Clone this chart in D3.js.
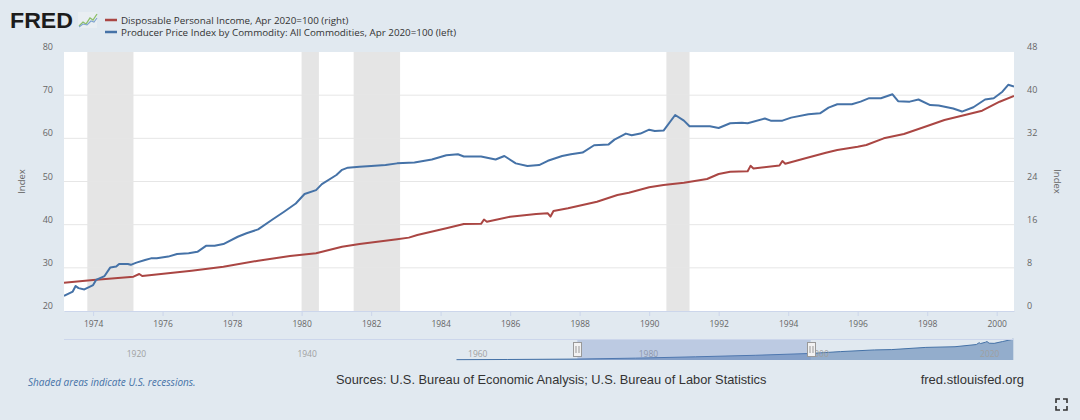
<!DOCTYPE html>
<html><head><meta charset="utf-8">
<script src="https://cdn.jsdelivr.net/npm/d3@7"></script>
<style>
body{margin:0;background:#e1e9f0;}
svg{display:block;font-family:"Open Sans","Liberation Sans",Arial,sans-serif;}
</style>
</head><body>
<svg id="c" width="1080" height="420"></svg>
<script>
// ---------- DATA ----------
const ppiDates = ["1973-03","1973-06","1973-07","1973-08","1973-10","1974-01","1974-02","1974-05","1974-07","1974-09","1974-10","1975-01","1975-02","1975-04","1975-07","1975-09","1975-11","1976-03","1976-06","1976-10","1977-01","1977-04","1977-07","1977-10","1978-03","1978-06","1978-10","1979-03","1979-07","1979-11","1980-02","1980-06","1980-08","1981-01","1981-03","1981-05","1981-09","1982-01","1982-06","1982-10","1983-04","1983-10","1984-03","1984-07","1984-09","1985-03","1985-08","1985-11","1986-03","1986-07","1986-11","1987-02","1987-07","1987-10","1988-02","1988-06","1988-11","1989-01","1989-05","1989-07","1989-10","1990-01","1990-03","1990-06","1990-10","1991-01","1991-03","1991-06","1991-10","1992-01","1992-05","1992-09","1992-11","1993-05","1993-07","1993-11","1994-02","1994-08","1994-12","1995-03","1995-06","1995-11","1996-02","1996-05","1996-09","1997-01","1997-03","1997-07","1997-10","1998-02","1998-05","1998-10","1999-01","1999-05","1999-09","1999-12","2000-03","2000-05","2000-07"];
const ppiValues = [23.5,24.5,25.8,25.3,25.0,26.0,27.2,28.1,30.1,30.3,30.9,30.9,30.7,31.2,31.8,32.2,32.2,32.6,33.2,33.4,33.7,35.1,35.1,35.5,37.2,38.0,38.9,41.2,43.0,44.9,47.1,48.0,49.4,51.5,52.7,53.2,53.4,53.6,53.8,54.2,54.4,55.1,56.1,56.3,55.8,55.8,55.1,55.9,54.2,53.6,53.8,54.8,55.9,56.3,56.7,58.4,58.6,59.7,61.1,60.7,61.1,62.0,61.7,61.8,65.4,64.1,62.8,62.8,62.8,62.4,63.5,63.6,63.5,64.6,64.1,64.1,64.8,65.6,65.8,67.1,67.9,67.9,68.5,69.3,69.3,70.2,68.6,68.5,69.0,67.7,67.6,66.9,66.2,67.2,69.0,69.3,70.8,72.4,72.0];

const dpiDates = ["1973-03","1974-01","1975-03","1975-05","1975-06","1976-11","1977-10","1978-10","1979-09","1980-06","1981-03","1981-09","1982-10","1983-02","1983-05","1984-03","1984-09","1985-03","1985-04","1985-05","1986-01","1986-10","1987-02","1987-03","1987-04","1987-09","1988-07","1989-02","1989-06","1990-01","1990-06","1991-01","1991-09","1992-01","1992-05","1992-11","1992-12","1993-01","1993-10","1993-11","1993-12","1994-07","1995-02","1995-06","1996-01","1996-04","1996-10","1997-05","1998-01","1998-07","1999-02","1999-08","2000-02","2000-07"];
const dpiValues = [5.25,5.74,6.36,6.86,6.48,7.47,8.21,9.32,10.19,10.69,11.92,12.42,13.3,13.6,14.08,15.33,16.12,16.15,16.95,16.55,17.48,17.97,18.1,17.5,18.53,19.03,20.26,21.5,21.92,22.92,23.35,23.78,24.46,25.39,25.82,25.9,26.9,26.4,26.95,27.8,27.3,28.3,29.34,29.84,30.45,30.76,32.0,32.8,34.28,35.4,36.32,37.12,38.79,39.84];

const navDates = ["1959-01","1965-01","1973-01","1980-01","1987-01","1994-01","2000-07","2004-01","2008-01","2010-01","2014-01","2017-06","2019-12","2020-04","2020-06","2021-01","2021-03","2021-06","2022-01","2023-01","2024-04"];
const navValues = [2,3,5.5,11,19,28,39,50,60,62,75,79,92,103,98,106,110,100,99,110,124];

const recStart = ["1973-11","1980-01","1981-07","1990-07"];
const recEnd   = ["1975-03","1980-07","1982-11","1991-03"];

const leftTicks  = [20,30,40,50,60,70,80];
const rightTicks = [0,8,16,24,32,40,48];
const navTickYears = [1920,1940,1960,1980,2000,2020];

const seriesNames = ["Disposable Personal Income, Apr 2020=100 (right)",
                     "Producer Price Index by Commodity: All Commodities, Apr 2020=100 (left)"];
const colRed = "#aa4643", colBlue = "#4572a7";

// ---------- SETUP ----------
const p = d3.timeParse("%Y-%m");
const svg = d3.select("#c");
const L = 64, R = 1014, T = 52, B = 311;

const x = d3.scaleTime().domain([p("1973-03"), p("2000-07")]).range([L, R]);
const yL = d3.scaleLinear().domain([20, 80]).range([B, T]);
const yR = d3.scaleLinear().domain([0, 48]).range([B, T]);

// plot background
svg.append("rect").attr("x", L).attr("y", T).attr("width", R - L).attr("height", B - T).attr("fill", "#fff");

// recessions
svg.append("g").selectAll("rect").data(recStart.map((s, i) => [p(s), p(recEnd[i])]))
  .join("rect")
  .attr("x", d => x(d[0])).attr("width", d => x(d[1]) - x(d[0]))
  .attr("y", T).attr("height", B - T).attr("fill", "#e5e5e5");

// gridlines
svg.append("g").selectAll("line").data(leftTicks.filter(v => v > 20 && v < 80))
  .join("line")
  .attr("x1", L).attr("x2", R).attr("y1", d => yL(d)).attr("y2", d => yL(d))
  .attr("stroke", "#e6e6e6").attr("stroke-width", 1);

// axes
const xAxis = svg.append("g").attr("transform", `translate(0,${B})`)
  .call(d3.axisBottom(x).ticks(d3.timeYear.every(2)).tickFormat(d3.timeFormat("%Y")).tickSize(5).tickSizeOuter(0).tickPadding(5));
xAxis.select(".domain").attr("stroke", "#ccd6eb");
xAxis.selectAll(".tick line").attr("stroke", "#ccd6eb");
xAxis.selectAll("text").attr("fill", "#666").style("font-size", "8.5px").style("font-family", "'Open Sans'");

const yAxisL = svg.append("g").attr("transform", `translate(${L},0)`)
  .call(d3.axisLeft(yL).tickValues(leftTicks).tickSize(0).tickPadding(11));
yAxisL.select(".domain").remove();
yAxisL.selectAll("text").attr("dy", null).attr("y", -2.5).attr("fill", "#666").style("font-size", "9px").style("font-family", "'Open Sans'");

const yAxisR = svg.append("g").attr("transform", `translate(${R},0)`)
  .call(d3.axisRight(yR).tickValues(rightTicks).tickSize(0).tickPadding(13));
yAxisR.select(".domain").remove();
yAxisR.selectAll("text").attr("dy", null).attr("y", -2.5).attr("fill", "#666").style("font-size", "9px").style("font-family", "'Open Sans'");

// axis titles
svg.append("text").attr("transform", `translate(25,${(T + B) / 2}) rotate(-90)`)
  .attr("text-anchor", "middle").attr("fill", "#666").style("font-size", "9.5px").text("Index");
svg.append("text").attr("transform", `translate(1054,${(T + B) / 2}) rotate(90)`)
  .attr("text-anchor", "middle").attr("fill", "#666").style("font-size", "9.5px").text("Index");

// lines
const ppi = ppiDates.map((d, i) => ({ d: p(d), v: ppiValues[i] }));
const dpi = dpiDates.map((d, i) => ({ d: p(d), v: dpiValues[i] }));
svg.append("clipPath").attr("id", "clp").append("rect")
  .attr("x", L).attr("y", T).attr("width", R - L).attr("height", B - T);
svg.append("path").datum(dpi).attr("clip-path", "url(#clp)")
  .attr("d", d3.line().x(d => x(d.d)).y(d => yR(d.v)))
  .attr("fill", "none").attr("stroke", colRed).attr("stroke-width", 2).attr("stroke-linejoin", "round");
svg.append("path").datum(ppi).attr("clip-path", "url(#clp)")
  .attr("d", d3.line().x(d => x(d.d)).y(d => yL(d.v)))
  .attr("fill", "none").attr("stroke", colBlue).attr("stroke-width", 2).attr("stroke-linejoin", "round");

// ---------- HEADER ----------
svg.append("text").attr("x", 10).attr("y", 28)
  .style("font-family", "'Liberation Sans',Arial,sans-serif").style("font-weight", "bold").style("font-size", "22px")
  .attr("textLength", 63).attr("lengthAdjust", "spacingAndGlyphs").attr("fill", "#1c1c1c").text("FRED");
const lg = svg.append("g").attr("transform", "translate(78,12)");
lg.append("rect").attr("width", 19).attr("height", 16).attr("fill", "#eef2f4").attr("opacity", 0.6);
lg.append("polyline").attr("points", "1,14 5,10 8,12 12,6 15,8 19,2").attr("fill", "none").attr("stroke", "#8dbf6a").attr("stroke-width", 1.3);
lg.append("polyline").attr("points", "1,15 5,12 9,13 13,9 16,10 19,6").attr("fill", "none").attr("stroke", "#7fa3cf").attr("stroke-width", 1.1);

const leg = svg.append("g");
[colRed, colBlue].forEach((c, i) => {
  leg.append("line").attr("x1", 105).attr("x2", 117).attr("y1", 20 + i * 12).attr("y2", 20 + i * 12)
    .attr("stroke", c).attr("stroke-width", 2.5);
  leg.append("text").attr("x", 121).attr("y", 23.5 + i * 12).attr("fill", "#333")
    .style("font-size", "9.8px").text(seriesNames[i]);
});

// ---------- NAVIGATOR ----------
const NT = 339, NB = 360;
const x2 = d3.scaleTime().domain([p("1913-01"), p("2024-05")]).range([L, R]);
const y2 = d3.scaleLinear().domain([0, d3.max(navValues) + 1]).range([NB, NT]);
const nav = navDates.map((d, i) => ({ d: p(d), v: navValues[i] }));
svg.append("path").datum(nav)
  .attr("d", d3.area().x(d => x2(d.d)).y0(NB).y1(d => y2(d.v)))
  .attr("fill", colBlue).attr("fill-opacity", 0.5);
svg.append("path").datum(nav)
  .attr("d", d3.line().x(d => x2(d.d)).y(d => y2(d.v)))
  .attr("fill", "none").attr("stroke", colBlue).attr("stroke-width", 1);
svg.append("g").selectAll("text").data(navTickYears).join("text")
  .attr("x", d => x2(new Date(d, 0, 1)) + 3).attr("y", 357)
  .attr("fill", "#a0a0a0").style("font-size", "8.5px").text(d => d);
const m0 = x2(x.domain()[0]), m1 = x2(x.domain()[1]);
svg.append("rect").attr("x", m0).attr("y", NT).attr("width", m1 - m0).attr("height", NB - NT)
  .attr("fill", "rgba(102,133,194,0.3)");
svg.append("line").attr("x1", L).attr("x2", R).attr("y1", NT + 0.5).attr("y2", NT + 0.5)
  .attr("stroke", "#ccd6eb").attr("stroke-width", 1);
[m0, m1].forEach(hx => {
  const h = svg.append("g").attr("transform", `translate(${Math.round(hx) + 0.5},0)`);
  h.append("rect").attr("x", -4).attr("y", 342.5).attr("width", 8).attr("height", 14)
    .attr("fill", "#f2f2f2").attr("stroke", "#999");
  h.append("line").attr("x1", -1.5).attr("x2", -1.5).attr("y1", 346).attr("y2", 353).attr("stroke", "#999");
  h.append("line").attr("x1", 1.5).attr("x2", 1.5).attr("y1", 346).attr("y2", 353).attr("stroke", "#999");
});

// ---------- FOOTER ----------
svg.append("text").attr("x", 28).attr("y", 386).attr("fill", colBlue)
  .style("font-size", "10px").style("font-style", "italic").text("Shaded areas indicate U.S. recessions.");
svg.append("text").attr("x", 336).attr("y", 384).attr("fill", "#333")
  .style("font-family", "'Liberation Sans',Arial,sans-serif").style("font-size", "12.8px")
  .text("Sources: U.S. Bureau of Economic Analysis; U.S. Bureau of Labor Statistics");
svg.append("text").attr("x", 1024).attr("y", 384).attr("text-anchor", "end").attr("fill", "#333")
  .style("font-family", "'Liberation Sans',Arial,sans-serif").style("font-size", "13px")
  .text("fred.stlouisfed.org");
svg.append("path")
  .attr("d", "M1056,403 v-4 h4 M1063,399 h4 v4 M1067,406 v4 h-4 M1060,410 h-4 v-4")
  .attr("fill", "none").attr("stroke", "#333").attr("stroke-width", 1.6);
</script>
</body></html>
